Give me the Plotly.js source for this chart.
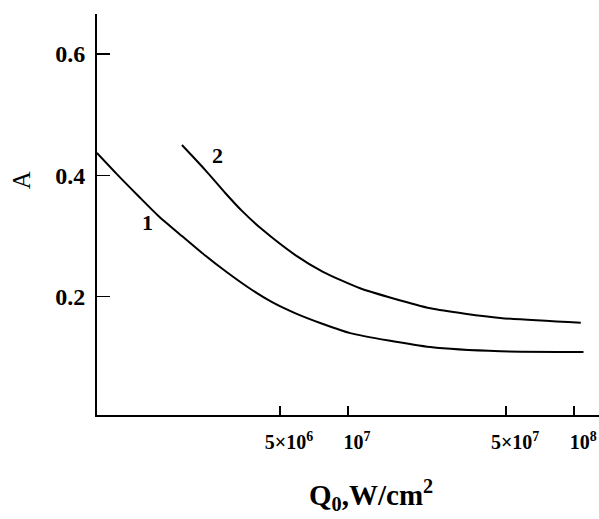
<!DOCTYPE html>
<html>
<head>
<meta charset="utf-8">
<script src="https://cdn.plot.ly/plotly-3.0.1.min.js"></script>
<style>
  html, body { margin: 0; padding: 0; background: #fff; }
  #chart { width: 599px; height: 519px; }
</style>
</head>
<body>
<div id="chart"></div>
<script>
// Absorptivity A versus incident flux density Q0 (W/cm^2), two cases
const q1 = [7.74e5, 9.6e5, 1.18e6, 1.44e6, 1.84e6, 2.26e6, 2.94e6, 3.76e6, 4.61e6, 5.82e6, 7.74e6, 1.02e7, 2.31e7, 4.71e7, 1.10e8];
const a1 = [0.437, 0.400, 0.366, 0.334, 0.300, 0.272, 0.239, 0.211, 0.191, 0.173, 0.155, 0.140, 0.117, 0.110, 0.109];

const q2 = [1.84e6, 2.33e6, 2.86e6, 3.40e6, 4.16e6, 5.82e6, 7.74e6, 1.13e7, 2.31e7, 4.71e7, 1.07e8];
const a2 = [0.450, 0.409, 0.371, 0.341, 0.311, 0.269, 0.241, 0.214, 0.181, 0.165, 0.157];

const xTickVals = [5e6, 1e7, 5e7, 1e8];
const xTickText = ['5×10<sup>6</sup>', '10<sup>7</sup>', '5×10<sup>7</sup>', '10<sup>8</sup>'];
const yTickVals = [0.2, 0.4, 0.6];
const yTickText = ['0.2', '0.4', '0.6'];

const curveLabels = ['1', '2'];
const curveLabelPos = [[1.29e6, 0.322], [2.63e6, 0.433]];

const serif = 'Liberation Serif, Times New Roman, serif';

const lineStyle = { color: '#000', width: 2, shape: 'spline', smoothing: 0.6 };
const traces = [
  { x: q1, y: a1, mode: 'lines', line: lineStyle, hoverinfo: 'skip' },
  { x: q2, y: a2, mode: 'lines', line: lineStyle, hoverinfo: 'skip' }
];

const annotations = curveLabels.map((t, i) => ({
  x: Math.log10(curveLabelPos[i][0]), y: curveLabelPos[i][1],
  xref: 'x', yref: 'y', text: t, showarrow: false,
  font: { family: serif, size: 22, color: '#000', weight: 'bold' }
}));

// axis titles placed freely
annotations.push({
  xref: 'paper', yref: 'paper', x: -0.151, y: 0.586,
  xanchor: 'center', yanchor: 'middle',
  text: 'A', textangle: -90, showarrow: false,
  font: { family: serif, size: 25, color: '#000' }
});
annotations.push({
  xref: 'paper', yref: 'paper', x: 0.545, y: -0.2,
  xanchor: 'center', yanchor: 'middle',
  text: 'Q<sub>0</sub>,W/cm<sup>2</sup>', showarrow: false,
  font: { family: serif, size: 29, color: '#000', weight: 'bold' }
});

const layout = {
  width: 599, height: 519,
  margin: { l: 97, r: 0, t: 14, b: 104 },
  paper_bgcolor: '#fff', plot_bgcolor: '#fff',
  showlegend: false,
  xaxis: {
    type: 'log', range: [5.889, 8.11],
    showgrid: false, zeroline: false,
    showline: true, linecolor: '#000', linewidth: 2,
    ticks: 'inside', ticklen: 9, tickwidth: 1.5, tickcolor: '#000',
    tickvals: xTickVals, ticktext: xTickText,
    ticklabelshift: 9, ticklabelstandoff: 8,
    tickfont: { family: serif, size: 20, color: '#000', weight: 'bold' }
  },
  yaxis: {
    range: [0.005, 0.666],
    showgrid: false, zeroline: false,
    showline: true, linecolor: '#000', linewidth: 2,
    ticks: 'inside', ticklen: 13, tickwidth: 1.5, tickcolor: '#000',
    tickvals: yTickVals, ticktext: yTickText,
    ticklabelstandoff: 5,
    tickfont: { family: serif, size: 24, color: '#000', weight: 'bold' }
  },
  annotations: annotations
};

Plotly.newPlot('chart', traces, layout, { staticPlot: true, displayModeBar: false });
</script>
</body>
</html>
